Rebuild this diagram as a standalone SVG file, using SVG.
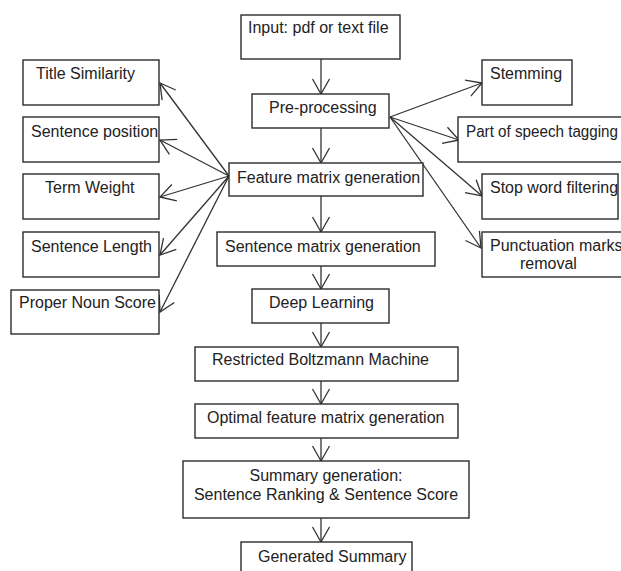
<svg xmlns="http://www.w3.org/2000/svg" width="621" height="571" viewBox="0 0 621 571">
<defs>
<style>
.box{fill:#fff;stroke:#2b2b2b;stroke-width:1.4}
.t{font-family:"Liberation Sans",Arial,sans-serif;font-size:16px;fill:#222}
.c{stroke:#333;stroke-width:1.3;fill:none}
</style>
<marker id="arr" markerUnits="userSpaceOnUse" markerWidth="20" markerHeight="20" viewBox="-17 -10 20 20" refX="0" refY="0" orient="auto">
<path d="M-15,-8.5 L0,0 L-15,8.5" fill="none" stroke="#333" stroke-width="1.3"/>
</marker>
</defs>
<rect width="621" height="571" fill="#fff"/>
<g id="connectors">
<line class="c" x1="321" y1="59" x2="321" y2="94" marker-end="url(#arr)"/>
<line class="c" x1="321" y1="128" x2="321" y2="163" marker-end="url(#arr)"/>
<line class="c" x1="321" y1="196" x2="321" y2="232" marker-end="url(#arr)"/>
<line class="c" x1="321" y1="266" x2="321" y2="289" marker-end="url(#arr)"/>
<line class="c" x1="321" y1="323" x2="321" y2="347" marker-end="url(#arr)"/>
<line class="c" x1="321" y1="381" x2="321" y2="404" marker-end="url(#arr)"/>
<line class="c" x1="321" y1="438" x2="321" y2="461" marker-end="url(#arr)"/>
<line class="c" x1="321" y1="518" x2="321" y2="542" marker-end="url(#arr)"/>
<line class="c" x1="229" y1="176" x2="160" y2="83" marker-end="url(#arr)"/>
<line class="c" x1="229" y1="176" x2="160" y2="140" marker-end="url(#arr)"/>
<line class="c" x1="229" y1="176" x2="160" y2="197" marker-end="url(#arr)"/>
<line class="c" x1="229" y1="176" x2="160" y2="255" marker-end="url(#arr)"/>
<line class="c" x1="229" y1="176" x2="160" y2="312" marker-end="url(#arr)"/>
<line class="c" x1="390" y1="117" x2="482" y2="83" marker-end="url(#arr)"/>
<line class="c" x1="390" y1="117" x2="459" y2="140" marker-end="url(#arr)"/>
<line class="c" x1="390" y1="117" x2="482" y2="196" marker-end="url(#arr)"/>
<line class="c" x1="390" y1="117" x2="481" y2="248" marker-end="url(#arr)"/>
</g>
<g id="input"><rect class="box" x="241" y="15" width="159" height="44"/><text class="t" x="248" y="33">Input: pdf or text file</text></g>
<g id="preprocessing"><rect class="box" x="252" y="94" width="137" height="34"/><text class="t" x="269" y="113">Pre-processing</text></g>
<g id="feature"><rect class="box" x="229" y="163" width="194" height="33"/><text class="t" x="237" y="183">Feature matrix generation</text></g>
<g id="sentmatrix"><rect class="box" x="217" y="232" width="218" height="34"/><text class="t" x="225" y="252">Sentence matrix generation</text></g>
<g id="deep"><rect class="box" x="252" y="289" width="137" height="34"/><text class="t" x="269" y="308">Deep Learning</text></g>
<g id="rbm"><rect class="box" x="195" y="347" width="263" height="34"/><text class="t" x="212" y="365">Restricted Boltzmann Machine</text></g>
<g id="optimal"><rect class="box" x="195" y="404" width="263" height="34"/><text class="t" x="207" y="423">Optimal feature matrix generation</text></g>
<g id="summary"><rect class="box" x="183" y="461" width="286" height="57"/><text class="t" x="326" y="481" text-anchor="middle">Summary generation:</text><text class="t" x="326" y="500" text-anchor="middle">Sentence Ranking &amp; Sentence Score</text></g>
<g id="generated"><rect class="box" x="241" y="542" width="171" height="40"/><text class="t" x="258" y="562">Generated Summary</text></g>
<g id="title"><rect class="box" x="23" y="60" width="136" height="45"/><text class="t" x="36" y="79">Title Similarity</text></g>
<g id="sentpos"><rect class="box" x="23" y="117" width="136" height="45"/><text class="t" x="31" y="137">Sentence position</text></g>
<g id="term"><rect class="box" x="23" y="174" width="136" height="45"/><text class="t" x="45" y="193">Term Weight</text></g>
<g id="sentlen"><rect class="box" x="23" y="232" width="136" height="45"/><text class="t" x="31" y="252">Sentence Length</text></g>
<g id="proper"><rect class="box" x="11" y="290" width="148" height="44"/><text class="t" x="19" y="308">Proper Noun Score</text></g>
<g id="stemming"><rect class="box" x="482" y="60" width="90" height="45"/><text class="t" x="490" y="79">Stemming</text></g>
<g id="pos"><rect class="box" x="458" y="117" width="175" height="45"/><text class="t" x="466" y="137" textLength="152" lengthAdjust="spacingAndGlyphs">Part of speech tagging</text></g>
<g id="stopword"><rect class="box" x="482" y="174" width="136" height="45"/><text class="t" x="490" y="193">Stop word filtering</text></g>
<g id="punct"><rect class="box" x="482" y="232" width="150" height="45"/><text class="t" x="490" y="251">Punctuation marks</text><text class="t" x="520" y="269">removal</text></g>
</svg>
